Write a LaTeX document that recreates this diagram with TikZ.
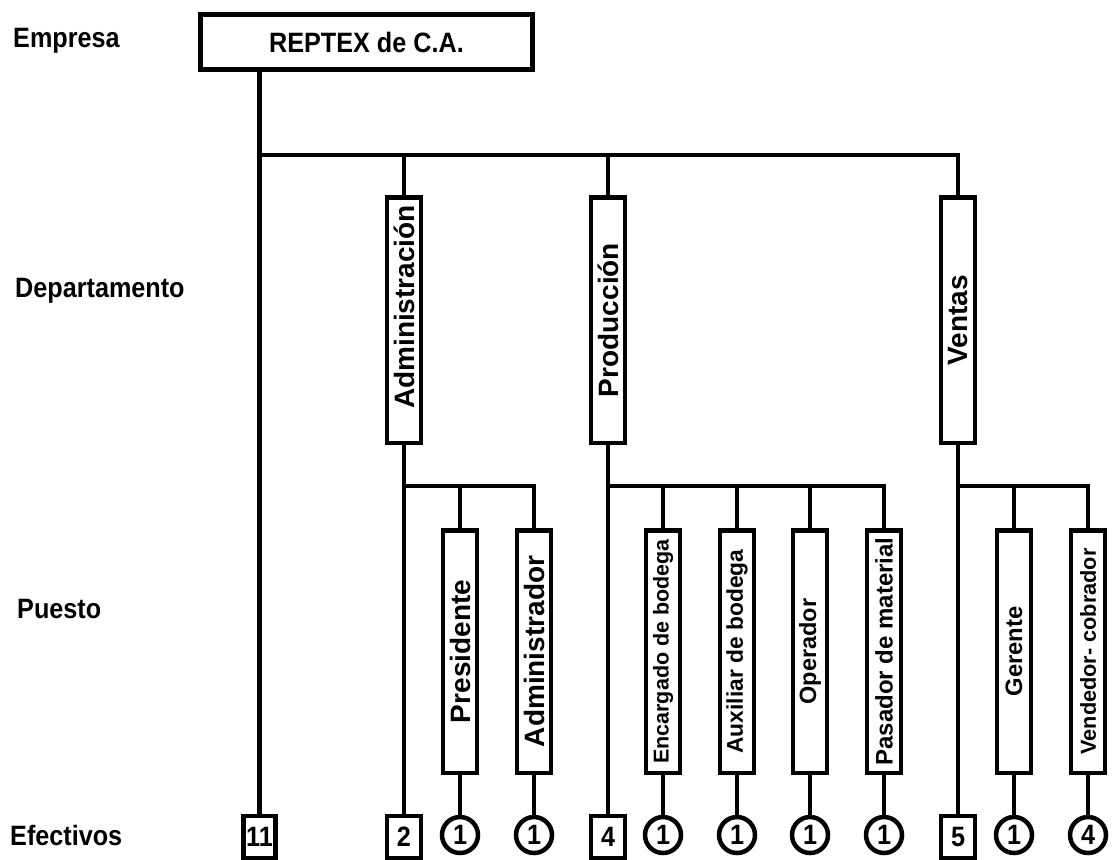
\documentclass[tikz,border=0pt]{standalone}
\usepackage{fontspec}
\setmainfont{Liberation Sans}
\newfontfamily\narrowsans[FakeStretch=0.9]{Liberation Sans}
\newcommand{\upright}[2]{\rotatebox{90}{\fontsize{#1}{#1}\selectfont\bfseries #2}}
\begin{document}
\begin{tikzpicture}[x=1pt,y=-1pt,
  frame/.style={draw=black, line width=4.5pt, inner sep=0pt, fill=white},
  topbox/.style={frame, minimum width=332pt, minimum height=55pt,
    font=\narrowsans\bfseries\fontsize{28}{30}\selectfont},
  deptbox/.style={frame, minimum width=34pt, minimum height=245.5pt},
  postbox/.style={frame, minimum width=34pt, minimum height=242.5pt},
  countbox/.style={frame, minimum width=34pt, minimum height=42pt,
    font=\narrowsans\bfseries\fontsize{28}{30}\selectfont},
  countdot/.style={frame, circle, minimum size=36pt,
    font=\narrowsans\bfseries\fontsize{28}{30}\selectfont},
  conn/.style={line width=4.5pt, line join=miter},
  level/.style={anchor=base west, inner sep=0pt,
    font=\narrowsans\bfseries\fontsize{28}{30}\selectfont}
]
\useasboundingbox (0,0) rectangle (1115,859);
\clip (0,0) rectangle (1115,859);

% row labels
\node[level] (lEmp) at (13,48) {Empresa};
\node[level] (lDep) at (15,297) {Departamento};
\node[level] (lPue) at (17,618) {Puesto};
\node[level] (lEfe) at (10,845) {Efectivos};

% company
\node[topbox] (emp) at (366.5,42) {REPTEX de C.A.};

% departments
\node[deptbox] (adm) at (404,320) {\upright{28}{\hspace{26pt}Administración}};
\node[deptbox] (pro) at (608,320) {\upright{28}{Producción}};
\node[deptbox] (ven) at (958,320) {\upright{28}{Ventas}};

% positions
\node[postbox] (pres) at (460,651.5) {\upright{28}{Presidente}};
\node[postbox] (admr) at (534,651.5) {\upright{28}{Administrador}};
\node[postbox] (enc)  at (663,651.5) {\upright{21.5}{Encargado de bodega}};
\node[postbox] (aux)  at (737,651.5) {\upright{22.8}{Auxiliar de bodega}};
\node[postbox] (ope)  at (810,651.5) {\upright{23.5}{Operador}};
\node[postbox] (pas)  at (884,651.5) {\upright{24}{Pasador de material}};
\node[postbox] (ger)  at (1014,651.5) {\upright{23.8}{Gerente}};
\node[postbox] (vcob) at (1088,651.5) {\upright{21.7}{Vendedor- cobrador}};

% headcounts
\node[countbox, minimum width=32pt] (n11) at (259.5,837) {11};
\node[countbox] (nadm) at (404,837) {2};
\node[countbox] (npro) at (608,837) {4};
\node[countbox] (nven) at (958,837) {5};
\node[countdot] (npres) at (460,835) {1};
\node[countdot] (nadmr) at (534,835) {1};
\node[countdot] (nenc)  at (663,835) {1};
\node[countdot] (naux)  at (737,835) {1};
\node[countdot] (nope)  at (810,835) {1};
\node[countdot] (npas)  at (884,835) {1};
\node[countdot] (nger)  at (1014,835) {1};
\node[countdot] (nvcob) at (1088,835) {4};

% bus levels
\coordinate (busA) at (0,155);
\coordinate (busB) at (0,486);

% company trunk and department bus
\draw[conn] (emp.south -| n11.north) -- (n11.north);
\draw[conn] (n11.north |- busA) -| (ven.north);
\draw[conn] (adm.north) -- (adm.north |- busA);
\draw[conn] (pro.north) -- (pro.north |- busA);

% Administración
\draw[conn] (adm.south) -- (nadm.north);
\draw[conn] (adm.south |- busB) -| (admr.north);
\draw[conn] (pres.north) -- (pres.north |- busB);
\draw[conn] (pres.south) -- (npres.north);
\draw[conn] (admr.south) -- (nadmr.north);

% Producción
\draw[conn] (pro.south) -- (npro.north);
\draw[conn] (pro.south |- busB) -| (pas.north);
\draw[conn] (enc.north) -- (enc.north |- busB);
\draw[conn] (aux.north) -- (aux.north |- busB);
\draw[conn] (ope.north) -- (ope.north |- busB);
\draw[conn] (enc.south) -- (nenc.north);
\draw[conn] (aux.south) -- (naux.north);
\draw[conn] (ope.south) -- (nope.north);
\draw[conn] (pas.south) -- (npas.north);

% Ventas
\draw[conn] (ven.south) -- (nven.north);
\draw[conn] (ven.south |- busB) -| (vcob.north);
\draw[conn] (ger.north) -- (ger.north |- busB);
\draw[conn] (ger.south) -- (nger.north);
\draw[conn] (vcob.south) -- (nvcob.north);
\end{tikzpicture}
\end{document}
